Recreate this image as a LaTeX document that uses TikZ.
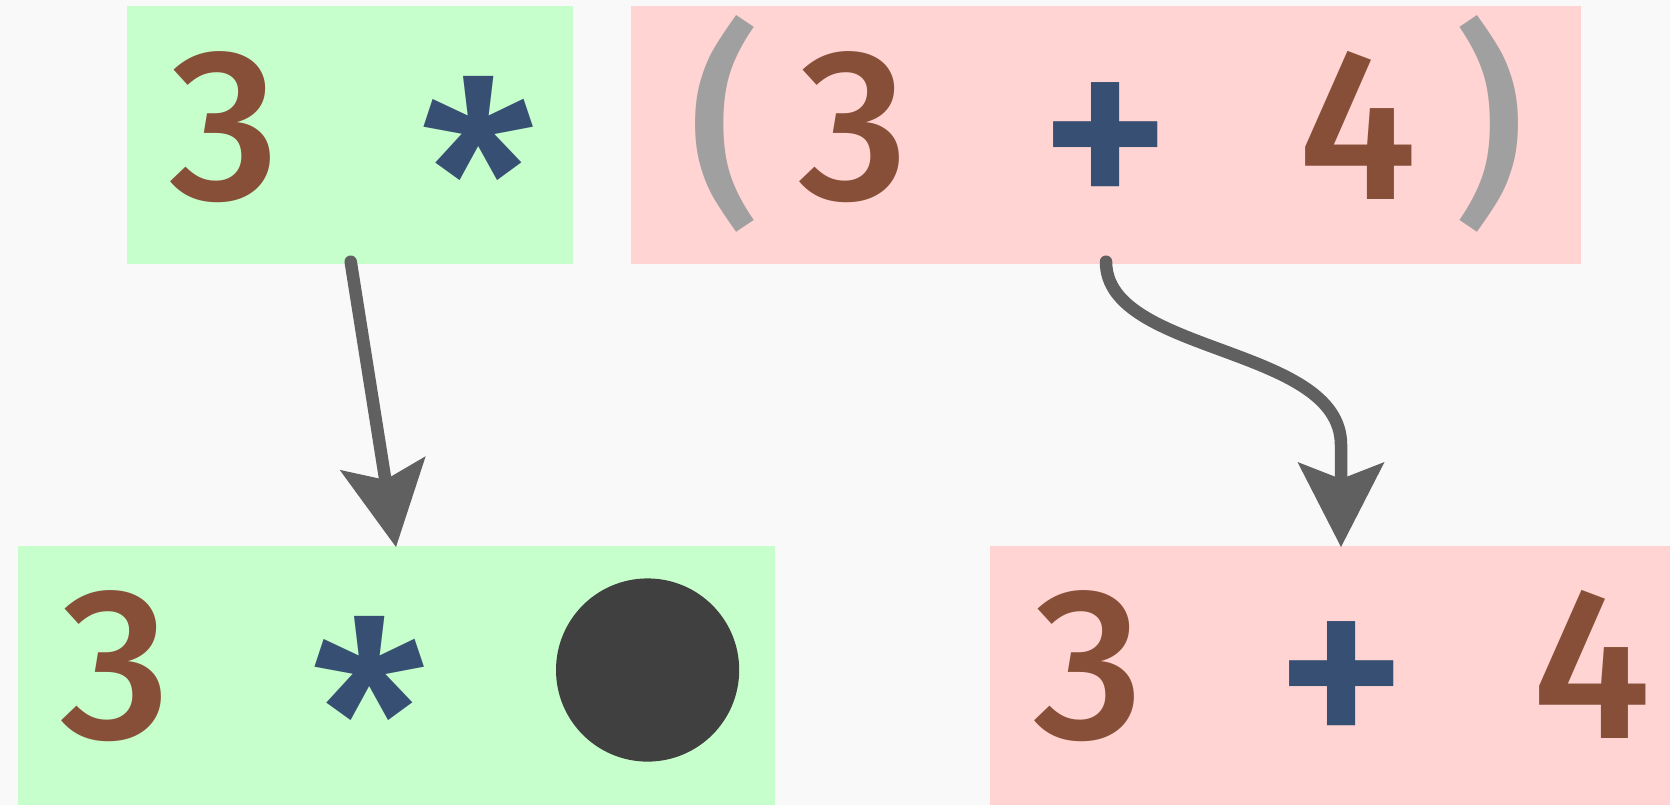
\documentclass[tikz,border=0pt]{standalone}
\usepackage{fontspec}
\setmainfont{Fira Sans}[UprightFont=* Medium]
\usetikzlibrary{arrows.meta}
\definecolor{numc}{HTML}{874F38}
\definecolor{opc}{HTML}{374F73}
\definecolor{parc}{HTML}{A0A0A0}
\definecolor{gbox}{HTML}{C6FFCB}
\definecolor{rbox}{HTML}{FFD4D2}
\definecolor{arrc}{HTML}{606060}
\definecolor{dotc}{HTML}{404040}
\definecolor{bgc}{HTML}{F9F9F9}
\tikzset{
  box/.style={inner sep=0pt, outer sep=0pt, draw=none},
  greenbox/.style={box, fill=gbox},
  redbox/.style={box, fill=rbox},
  glyph/.style={inner sep=0pt, anchor=base, font=\fontsize{108}{108}\selectfont},
  num/.style={glyph, text=numc},
  star/.style={inner sep=0pt, anchor=center, text=opc, font=\fontsize{131}{131}\selectfont},
  plus/.style={inner sep=0pt, anchor=center, text=opc, font=\fontsize{128}{128}\selectfont},
  paren/.style={glyph, text=parc},
  conn/.style={draw=arrc, line width=6.25pt, line cap=round, line join=miter,
    -{Stealth[length=42.5pt, width=43.5pt, inset=8.5pt, line width=0pt]}},
}
\begin{document}
\begin{tikzpicture}[x=0.5pt, y=-0.5pt]
\fill[bgc] (0,0) rectangle (1670,805);
\useasboundingbox (0,0) rectangle (1670,805);
% boxes
\node[greenbox, minimum width=223.15pt, minimum height=128.8pt] (A) at (349.85,135.2) {};
\node[redbox, minimum width=475pt, minimum height=128.8pt] (B) at (1105.5,135.2) {};
\node[greenbox, minimum width=378.25pt, minimum height=129.5pt] (C) at (396.25,675.5) {};
\node[redbox, minimum width=340pt, minimum height=129.5pt] (D) at (1330,675.5) {};
% top row glyphs
\node[num] (a3) at (225,199) {3};
\node[star] (aop) at (479,173.7) {*};
\node[paren] (bl) at (724,199) {(};
\node[num] (b3) at (854,199) {3};
\node[plus] (bop) at (1106,151) {+};
\node[num] (b4) at (1358,199) {4};
\node[paren] (br) at (1489,199) {)};
% bottom row glyphs
\node[num] (c3) at (116,738) {3};
\node[star] (cop) at (370,713.7) {*};
\node[circle, fill=dotc, minimum size=91.6pt, inner sep=0pt] (hole) at (647.6,670) {};
\node[num] (d3) at (1089,738) {3};
\node[plus] (dop) at (1342,690) {+};
\node[num] (d4) at (1592,738) {4};
% connectors
\coordinate (s1) at (350.7,261.7);
\coordinate (t1) at (396,547);
\coordinate (s2) at (1106,261.7);
\coordinate (t2) at (1341,547);
\draw[conn] (s1) -- (t1);
\draw[conn] (s2) .. controls (1106,355) and (1341,345) .. (1341,445) -- (t2);
\end{tikzpicture}
\end{document}
